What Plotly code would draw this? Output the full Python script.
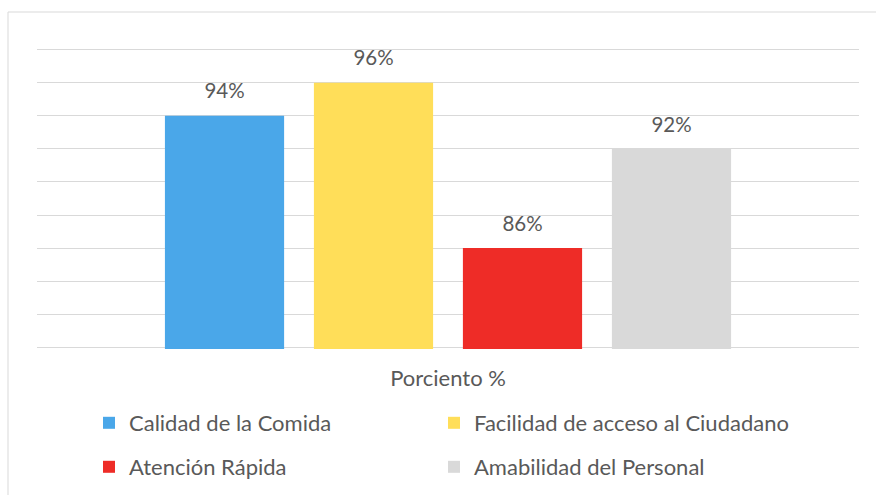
import plotly.graph_objects as go

categorias = ['Porciento %']
series = ['Calidad de la Comida', 'Facilidad de acceso al Ciudadano',
          'Atención Rápida', 'Amabilidad del Personal']
valores = [94, 96, 86, 92]
colores = ['#4AA7E9', '#FFDE59', '#EE2C27', '#D9D9D9']

FUENTE = 'Lato, Carlito, Calibri, sans-serif'
GRIS_TEXTO = '#595959'

# area de trazado (px)
IZQ, DER, ARR, ABA = 37, 859, 48, 349
ANCHO, ALTO = DER - IZQ, ABA - ARR

# posicion de cada entrada de la leyenda (x del texto, y del centro)
pos_leyenda = [(129, 423), (474, 423), (129, 467), (474, 467)]

# etiqueta grande + linea pequena invisible para separarla de la barra
plantilla = ("<span style='font-size:20.5px'>%{text}%</span>"
             "<br><span style='color:rgba(0,0,0,0)'>.</span>")

fig = go.Figure()
for i, (nombre, valor, color) in enumerate(zip(series, valores, colores)):
    leg = 'legend' if i == 0 else f'legend{i + 1}'
    fig.add_trace(go.Bar(
        x=categorias,
        y=[valor],
        name=nombre,
        marker=dict(color=color, line=dict(width=0)),
        text=[valor],
        texttemplate=plantilla,
        textposition='outside',
        textfont=dict(family=FUENTE, size=9.5, color=GRIS_TEXTO),
        cliponaxis=False,
        legend=leg,
        showlegend=True,
        hoverinfo='skip',
    ))

leyendas = {}
for i, (xt, yc) in enumerate(pos_leyenda):
    leg = 'legend' if i == 0 else f'legend{i + 1}'
    leyendas[leg] = dict(
        orientation='h',
        xanchor='left',
        yanchor='middle',
        x=(xt - 40 - IZQ) / ANCHO,
        y=-(yc - ABA) / ALTO,
        font=dict(family=FUENTE, size=22, color=GRIS_TEXTO),
        bgcolor='rgba(0,0,0,0)',
    )

fig.update_layout(
    width=876,
    height=495,
    showlegend=True,
    margin=dict(l=IZQ, r=876 - DER, t=ARR, b=495 - ABA, autoexpand=False),
    paper_bgcolor='white',
    plot_bgcolor='white',
    barmode='group',
    bargap=0.275,
    bargroupgap=0.2,
    font=dict(family=FUENTE, color=GRIS_TEXTO),
    shapes=[dict(
        type='rect', xref='paper', yref='paper',
        x0=(8 - IZQ) / ANCHO, x1=(890 - IZQ) / ANCHO,
        y0=-(520 - ABA) / ALTO, y1=1 + (ARR - 12) / ALTO,
        line=dict(color='#D9D9D9', width=1),
        fillcolor='rgba(0,0,0,0)', layer='below',
    )],
    **leyendas,
)

fig.update_xaxes(
    showgrid=False,
    showline=False,
    ticks='',
    tickfont=dict(family=FUENTE, size=22, color=GRIS_TEXTO),
    ticklabelstandoff=14,
)

fig.update_yaxes(
    range=[79.9, 98.1],
    dtick=2,
    tick0=80,
    showticklabels=False,
    showgrid=True,
    gridcolor='#D9D9D9',
    gridwidth=1,
    zeroline=False,
    showline=False,
)

fig.write_html('out.html', config={'displayModeBar': False},
               post_script="document.body.style.margin='0';")
